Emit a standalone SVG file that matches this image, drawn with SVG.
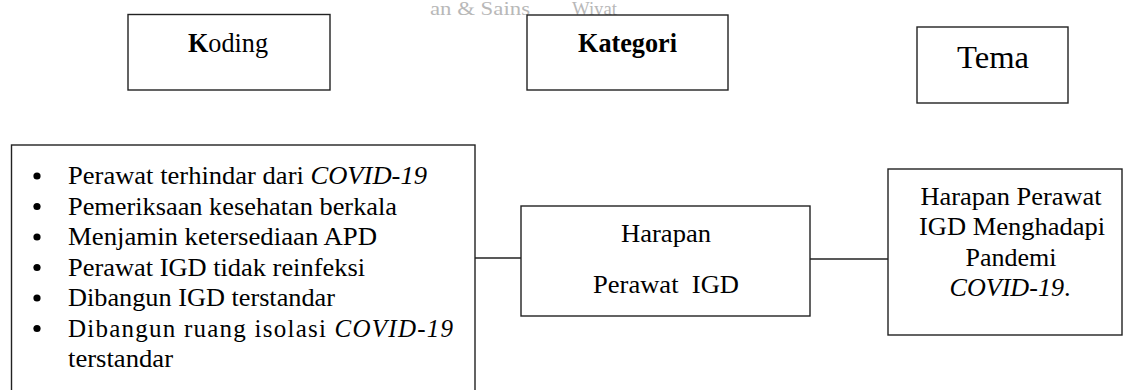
<svg xmlns="http://www.w3.org/2000/svg" width="1125" height="390" viewBox="0 0 1125 390">
<style>
.box{fill:#fff;stroke:#222;stroke-width:1.4}
.t{font-family:"Liberation Serif","Times New Roman",serif;fill:#000;font-size:25px}
.c{text-anchor:middle}
.b{font-weight:bold}
.i{font-style:italic}
.wm{font-family:"Liberation Serif","Times New Roman",serif;fill:#b8b8b8;font-size:18px}
.ln{stroke:#222;stroke-width:1.4;fill:none}
</style>
<rect width="1125" height="390" fill="#fff"/>
<g id="watermark">
<text class="wm" x="430" y="15" textLength="100" lengthAdjust="spacingAndGlyphs">an &amp; Sains</text>
<text class="wm" x="572" y="15" textLength="45" lengthAdjust="spacingAndGlyphs">Wiyat</text>
</g>
<g id="connectors">
<line class="ln" x1="475" y1="258" x2="521" y2="258"/>
<line class="ln" x1="810" y1="259" x2="888" y2="259"/>
</g>
<g id="koding-header">
<rect class="box" x="128" y="14.5" width="202" height="75.5"/>
<text class="t c" x="228" y="52" style="font-size:27px" textLength="80" lengthAdjust="spacingAndGlyphs"><tspan class="b">K</tspan>oding</text>
</g>
<g id="kategori-header">
<rect class="box" x="527" y="15" width="201" height="75"/>
<text class="t c b" x="627.5" y="52" style="font-size:27px" textLength="99" lengthAdjust="spacingAndGlyphs">Kategori</text>
</g>
<g id="tema-header">
<rect class="box" x="917" y="27" width="151" height="76"/>
<text class="t c" x="993" y="68" style="font-size:32px" textLength="72" lengthAdjust="spacingAndGlyphs">Tema</text>
</g>
<g id="koding-list">
<rect class="box" x="11.5" y="145" width="463.5" height="260"/>
<g fill="#000">
<circle cx="37" cy="176" r="3.6"/>
<circle cx="37" cy="206.5" r="3.6"/>
<circle cx="37" cy="237" r="3.6"/>
<circle cx="37" cy="267.5" r="3.6"/>
<circle cx="37" cy="298" r="3.6"/>
<circle cx="37" cy="328.5" r="3.6"/>
</g>
<text class="t" x="68" y="184" textLength="359" lengthAdjust="spacingAndGlyphs">Perawat terhindar dari <tspan class="i">COVID-19</tspan></text>
<text class="t" x="68" y="214.5" textLength="329" lengthAdjust="spacingAndGlyphs">Pemeriksaan kesehatan berkala</text>
<text class="t" x="68" y="245" textLength="309" lengthAdjust="spacingAndGlyphs">Menjamin ketersediaan APD</text>
<text class="t" x="68" y="275.5" textLength="297" lengthAdjust="spacingAndGlyphs">Perawat IGD tidak reinfeksi</text>
<text class="t" x="68" y="306" textLength="267" lengthAdjust="spacingAndGlyphs">Dibangun IGD terstandar</text>
<text class="t" x="68" y="336.5" textLength="385" lengthAdjust="spacing">Dibangun ruang isolasi <tspan class="i">COVID-19</tspan></text>
<text class="t" x="68" y="367" textLength="105" lengthAdjust="spacingAndGlyphs">terstandar</text>
</g>
<g id="kategori-node">
<rect class="box" x="521" y="206" width="289" height="110"/>
<text class="t c" x="666" y="242" textLength="90" lengthAdjust="spacingAndGlyphs">Harapan</text>
<text class="t c" x="666" y="293" textLength="146" lengthAdjust="spacingAndGlyphs" style="white-space:pre" xml:space="preserve">Perawat  IGD</text>
</g>
<g id="tema-node">
<rect class="box" x="888" y="169" width="234" height="166"/>
<text class="t c" x="1011" y="205" textLength="181" lengthAdjust="spacingAndGlyphs">Harapan Perawat</text>
<text class="t c" x="1012" y="235" textLength="186" lengthAdjust="spacingAndGlyphs">IGD Menghadapi</text>
<text class="t c" x="1011" y="265.5" textLength="91" lengthAdjust="spacingAndGlyphs">Pandemi</text>
<text class="t c" x="1010" y="296" textLength="121" lengthAdjust="spacingAndGlyphs"><tspan class="i">COVID-19</tspan>.</text>
</g>
</svg>
